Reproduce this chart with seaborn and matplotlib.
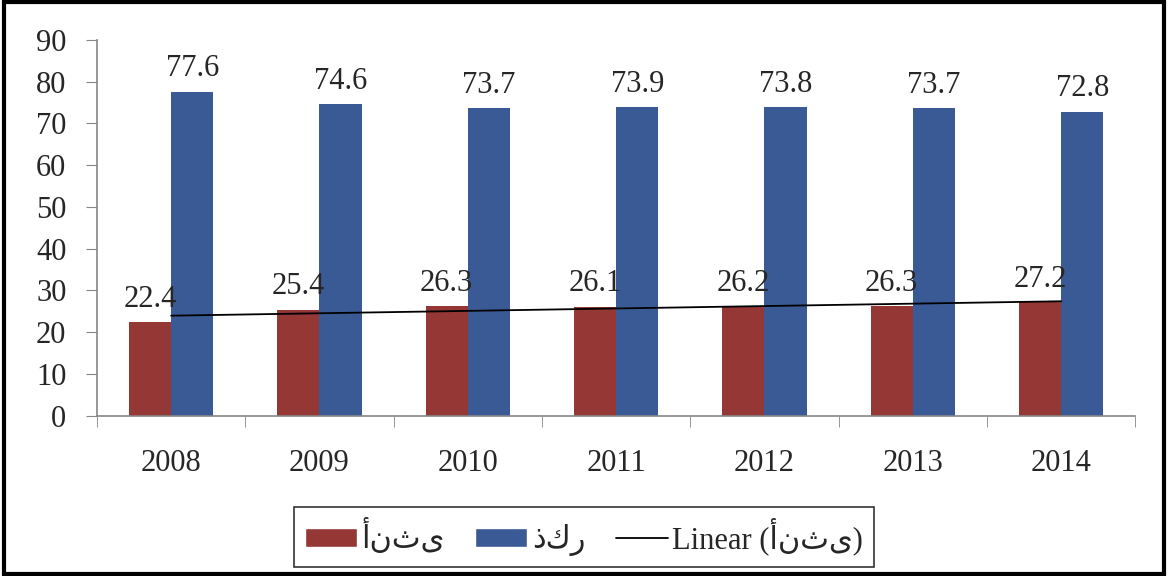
import numpy as np
import pandas as pd
import seaborn as sns
import matplotlib.pyplot as plt
from matplotlib.patches import Patch, Rectangle
from matplotlib.lines import Line2D

years = ['2008', '2009', '2010', '2011', '2012', '2013', '2014']
female = [22.4, 25.4, 26.3, 26.1, 26.2, 26.3, 27.2]
male = [77.6, 74.6, 73.7, 73.9, 73.8, 73.7, 72.8]
lbl_f = 'أنثى'
lbl_m = 'ذكر'

df = pd.DataFrame({
    'year': years * 2,
    'value': female + male,
    'sex': [lbl_f] * len(years) + [lbl_m] * len(years),
})

sns.set_style('white')
plt.rcParams['font.family'] = ['Liberation Serif', 'DejaVu Sans']

fig = plt.figure(figsize=(11.68, 5.76), dpi=100)
ax = fig.add_axes([0.083, 0.278, 0.889, 0.653])

red = '#943735'
blue = '#3A5A96'
sns.barplot(data=df, x='year', y='value', hue='sex', hue_order=[lbl_f, lbl_m],
            palette=[red, blue], width=0.57, gap=0, saturation=1, linewidth=0,
            ax=ax, legend=False)

# bar labels
for cont in ax.containers:
    ax.bar_label(cont, fmt='%.1f', padding=6, fontsize=22)

# linear trend of the female series
xs = np.arange(len(years))
k, b = np.polyfit(xs, female, 1)
ax.plot(xs, k * xs + b, color='black', lw=1.3)

ax.set_ylim(0, 90)
ax.set_xlim(-0.5, len(years) - 0.5)
ax.set_yticks(range(0, 91, 10))
ax.set_xlabel('')
ax.set_ylabel('')

for s in ['top', 'right']:
    ax.spines[s].set_visible(False)
for s in ['left', 'bottom']:
    ax.spines[s].set_color('#868686')
    ax.spines[s].set_linewidth(1.2)

ax.tick_params(axis='y', which='major', direction='out', length=8, color='#868686',
               labelsize=22, pad=14, left=True)
ax.tick_params(axis='x', which='major', length=0, labelsize=22, pad=24)
ax.set_xticks(np.arange(-0.5, len(years), 1), minor=True)
ax.tick_params(axis='x', which='minor', direction='out', length=8, color='#868686', bottom=True)

handles = [Patch(facecolor=red, label=lbl_f),
           Patch(facecolor=blue, label=lbl_m),
           Line2D([0], [0], color='black', lw=1.3, label='Linear (' + lbl_f + ')')]
leg = fig.legend(handles=handles, loc='center', bbox_to_anchor=(0.5, 0.068), ncol=3,
                 fontsize=22, frameon=True, fancybox=False, edgecolor='black',
                 handlelength=1.7, handleheight=0.55, handletextpad=0.15,
                 columnspacing=1.0, borderpad=0.35)
leg.get_frame().set_linewidth(1.2)

fig.patches.append(Rectangle((0.003, 0.003), 0.994, 0.994, transform=fig.transFigure,
                             fill=False, edgecolor='black', lw=3))

fig.savefig('out.png', dpi=100)
